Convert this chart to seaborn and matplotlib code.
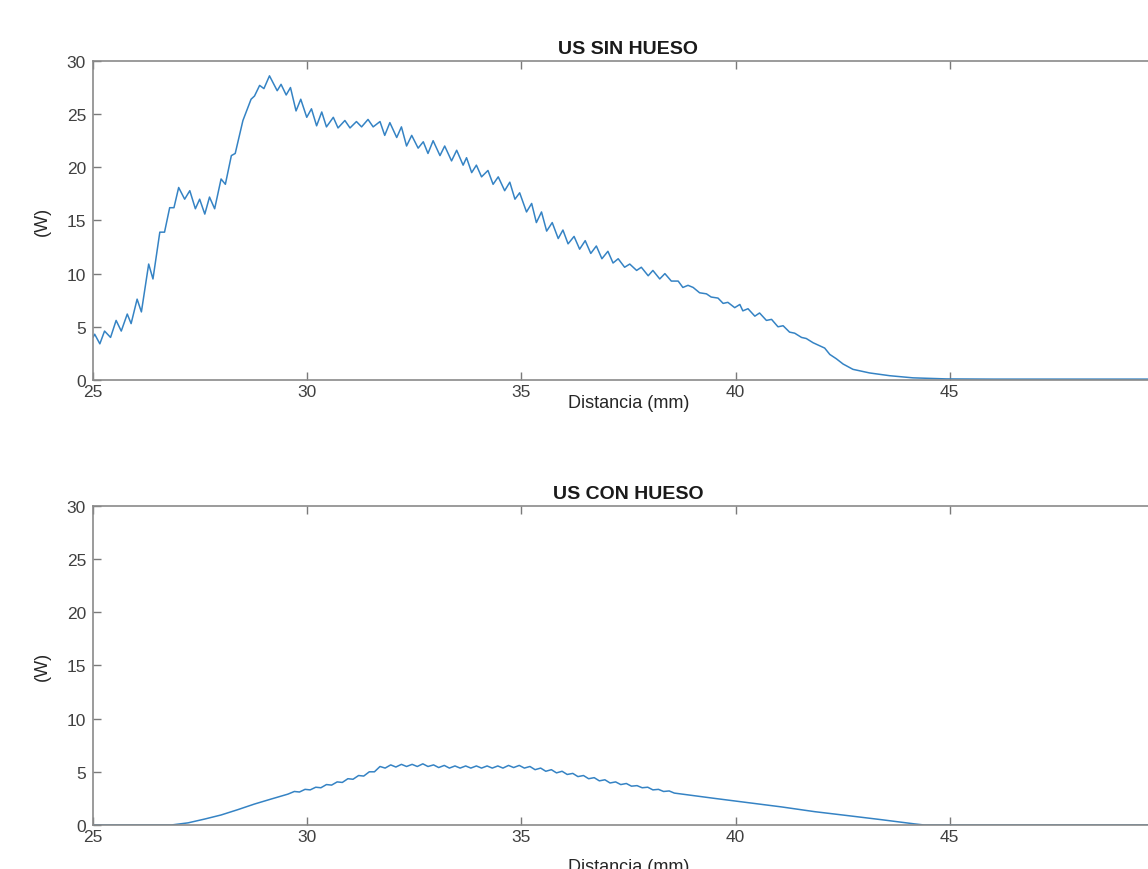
import numpy as np
import pandas as pd
import matplotlib
matplotlib.use("Agg")
import matplotlib.pyplot as plt
import seaborn as sns

# Datos (Distancia en mm, potencia en W)
dist_sin = [25.00, 25.04, 25.16, 25.27, 25.41, 25.54, 25.66, 25.80, 25.89, 26.03,
            26.13, 26.30, 26.40, 26.56, 26.67, 26.79, 26.89, 27.00, 27.14, 27.26,
            27.39, 27.49, 27.61, 27.72, 27.84, 27.99, 28.09, 28.23, 28.32, 28.50,
            28.69, 28.77, 28.89, 28.99, 29.12, 29.30, 29.39, 29.51, 29.61, 29.74,
            29.85, 29.99, 30.10, 30.22, 30.34, 30.45, 30.61, 30.72, 30.88, 31.00,
            31.15, 31.27, 31.42, 31.54, 31.70, 31.81, 31.93, 32.09, 32.20, 32.32,
            32.44, 32.59, 32.71, 32.82, 32.94, 33.10, 33.21, 33.37, 33.49, 33.64,
            33.72, 33.84, 33.95, 34.07, 34.22, 34.34, 34.46, 34.61, 34.73, 34.85,
            34.96, 35.12, 35.24, 35.35, 35.47, 35.59, 35.72, 35.86, 35.97, 36.09,
            36.23, 36.36, 36.49, 36.62, 36.75, 36.88, 37.02, 37.14, 37.26, 37.41,
            37.53, 37.69, 37.80, 37.96, 38.07, 38.23, 38.35, 38.50, 38.66, 38.77,
            38.89, 39.01, 39.16, 39.32, 39.43, 39.59, 39.71, 39.82, 39.98, 40.10,
            40.17, 40.29, 40.45, 40.56, 40.72, 40.84, 40.99, 41.11, 41.26, 41.38,
            41.54, 41.65, 41.81, 41.92, 42.08, 42.20, 42.35, 42.51, 42.74, 43.13,
            43.60, 44.14, 44.92, 46.00, 48.00, 50.00]
pot_sin = [4.0, 4.3, 3.4, 4.6, 4.0, 5.6, 4.6, 6.2, 5.3, 7.6,
           6.4, 10.9, 9.5, 13.9, 13.9, 16.2, 16.2, 18.1, 17.0, 17.8,
           16.1, 17.0, 15.6, 17.2, 16.1, 18.9, 18.4, 21.1, 21.3, 24.4,
           26.4, 26.7, 27.7, 27.4, 28.6, 27.2, 27.8, 26.8, 27.5, 25.3,
           26.4, 24.7, 25.5, 23.9, 25.2, 23.8, 24.7, 23.7, 24.4, 23.7,
           24.3, 23.8, 24.5, 23.8, 24.3, 23.0, 24.2, 22.8, 23.8, 22.0,
           23.0, 21.8, 22.4, 21.3, 22.5, 21.1, 22.0, 20.6, 21.6, 20.2,
           20.9, 19.5, 20.2, 19.1, 19.7, 18.4, 19.1, 17.8, 18.6, 17.0,
           17.6, 15.8, 16.6, 14.8, 15.8, 14.0, 14.8, 13.3, 14.1, 12.8,
           13.5, 12.3, 13.1, 11.9, 12.6, 11.4, 12.1, 11.0, 11.4, 10.6,
           10.9, 10.3, 10.6, 9.8, 10.3, 9.5, 10.0, 9.3, 9.3, 8.7,
           8.9, 8.7, 8.2, 8.1, 7.8, 7.7, 7.2, 7.3, 6.8, 7.1,
           6.5, 6.7, 6.0, 6.3, 5.6, 5.7, 5.0, 5.1, 4.5, 4.4,
           4.0, 3.9, 3.5, 3.3, 3.0, 2.4, 2.0, 1.5, 1.0, 0.66,
           0.4, 0.2, 0.1, 0.08, 0.08, 0.08]

dist_con = [25.00, 26.00, 26.83, 27.22, 27.61, 27.99, 28.38, 28.77, 29.16,
            29.55, 29.70, 29.82, 29.95, 30.07, 30.20, 30.32, 30.45, 30.57, 30.70,
            30.82, 30.95, 31.07, 31.20, 31.32, 31.45, 31.57, 31.70, 31.82, 31.95,
            32.07, 32.20, 32.32, 32.45, 32.57, 32.70, 32.82, 32.95, 33.07, 33.20,
            33.32, 33.45, 33.57, 33.70, 33.82, 33.95, 34.07, 34.20, 34.32, 34.45,
            34.57, 34.70, 34.82, 34.95, 35.07, 35.20, 35.32, 35.45, 35.57, 35.70,
            35.82, 35.95, 36.07, 36.20, 36.32, 36.45, 36.57, 36.70, 36.82, 36.95,
            37.07, 37.20, 37.32, 37.45, 37.57, 37.70, 37.82, 37.95, 38.07, 38.20,
            38.32, 38.45, 38.57, 39.51, 40.29, 41.07, 41.85, 42.62, 43.40, 44.18,
            44.40, 46.00, 48.00, 50.00]
pot_con = [0.0, 0.0, 0.0, 0.2, 0.56, 0.94, 1.44, 1.97, 2.44,
           2.9, 3.15, 3.1, 3.35, 3.3, 3.55, 3.5, 3.8, 3.75, 4.05,
           4.0, 4.35, 4.3, 4.65, 4.6, 5.0, 5.0, 5.5, 5.35, 5.65,
           5.45, 5.7, 5.5, 5.7, 5.5, 5.75, 5.5, 5.65, 5.4, 5.6,
           5.35, 5.55, 5.35, 5.55, 5.35, 5.55, 5.35, 5.55, 5.35, 5.55,
           5.35, 5.6, 5.4, 5.6, 5.35, 5.5, 5.2, 5.35, 5.05, 5.2,
           4.9, 5.05, 4.75, 4.85, 4.55, 4.65, 4.35, 4.45, 4.15, 4.25,
           3.95, 4.05, 3.8, 3.9, 3.65, 3.7, 3.5, 3.55, 3.3, 3.35,
           3.15, 3.2, 3.0, 2.5, 2.1, 1.7, 1.25, 0.88, 0.5, 0.1,
           0.0, 0.0, 0.0, 0.0]

titulos = ["US SIN HUESO", "US CON HUESO"]
xticks = [25, 30, 35, 40, 45, 50]
yticks = [0, 5, 10, 15, 20, 25, 30]

sns.set_theme(style="white")
plt.rcParams['font.family'] = ['Liberation Sans', 'DejaVu Sans']

fig = plt.figure(figsize=(11.48, 8.70), dpi=100)
ax1 = fig.add_axes([0.0810, 0.5621, 0.9329, 0.3667])
ax2 = fig.add_axes([0.0810, 0.0506, 0.9329, 0.3667])

color_linea = '#3583c4'
gris = '#404040'

for ax, x, y, titulo, pad_x in zip([ax1, ax2], [dist_sin, dist_con], [pot_sin, pot_con],
                                   titulos, [-3.5, 10]):
    sns.lineplot(x=x, y=y, ax=ax, color=color_linea, linewidth=1.1, sort=False,
                 estimator=None, solid_joinstyle='round')
    ax.set_xlim(25, 50)
    ax.set_ylim(0, 30)
    ax.set_xticks(xticks)
    ax.set_yticks(yticks)
    ax.set_title(titulo, fontsize=14, fontweight='bold', color='#1a1a1a', pad=6)
    ax.set_xlabel("Distancia (mm)", fontsize=13, color='#262626', labelpad=pad_x)
    ax.set_ylabel("(W)", fontsize=13, color='#262626', labelpad=11)
    ax.tick_params(direction='in', length=6, width=1, colors='#7a7a7a',
                   labelcolor=gris, labelsize=12.5, top=True, right=True,
                   bottom=True, left=True)
    ax.tick_params(axis='y', pad=5)
    ax.tick_params(axis='x', pad=3)
    for sp in ax.spines.values():
        sp.set_visible(True)
        sp.set_color('#8a8a8a')
        sp.set_linewidth(1.2)

fig.savefig("out.png", dpi=100)
